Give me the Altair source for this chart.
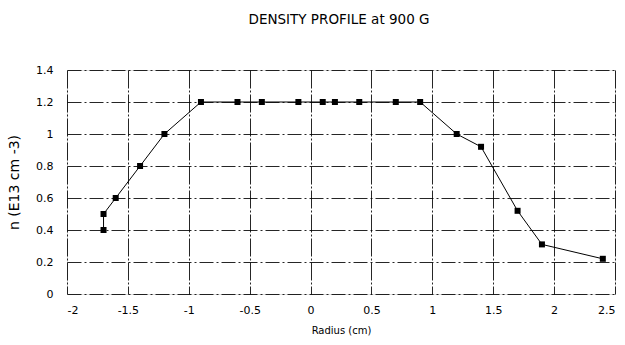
import altair as alt
import pandas as pd

# Radial density profile measured at 900 G
radius = [-1.7, -1.7, -1.6, -1.4, -1.2, -0.9, -0.6, -0.4, -0.1, 0.1, 0.2, 0.4,
          0.7, 0.9, 1.2, 1.4, 1.7, 1.9, 2.4]
density = [0.4, 0.5, 0.6, 0.8, 1.0, 1.2, 1.2, 1.2, 1.2, 1.2, 1.2, 1.2,
           1.2, 1.2, 1.0, 0.92, 0.52, 0.31, 0.22]
order = list(range(len(radius)))

x_ticks = [-2, -1.5, -1, -0.5, 0, 0.5, 1, 1.5, 2, 2.5]
y_ticks = [0, 0.2, 0.4, 0.6, 0.8, 1, 1.2, 1.4]

df = pd.DataFrame({"r": radius, "n": density, "i": order})

FONT = "DejaVu Sans"
PLAIN = "'' + datum.value"

x_enc = alt.X(
    "r:Q",
    scale=alt.Scale(domain=[-2, 2.5], nice=False, zero=False),
    axis=alt.Axis(
        values=x_ticks, title="Radius (cm)", grid=True, gridColor="#000",
        gridOpacity=0.85, gridDash=[18, 2, 2, 2], gridWidth=1,
        domain=False, ticks=False, labelPadding=10, labelOverlap=False,
        labelFont=FONT, labelFontSize=11, labelColor="#000",
        titleFont=FONT, titleFontSize=10, titleFontWeight="normal",
        titleColor="#000", titlePadding=10, labelExpr=PLAIN,
    ),
)
y_enc = alt.Y(
    "n:Q",
    scale=alt.Scale(domain=[0, 1.4], nice=False),
    axis=alt.Axis(
        values=y_ticks, title="n (E13 cm -3)", grid=True, gridColor="#000",
        gridOpacity=0.85, gridDash=[14, 3, 2, 3], gridWidth=1,
        domain=False, ticks=False, labelPadding=14, labelOverlap=False,
        labelFont=FONT, labelFontSize=11, labelColor="#000",
        titleFont=FONT, titleFontSize=14, titleFontWeight="normal",
        titleColor="#000", titlePadding=14, labelExpr=PLAIN,
    ),
)

base = alt.Chart(df).encode(x=x_enc, y=y_enc, order="i:Q")
line = base.mark_line(color="#000", strokeWidth=1)
points = base.mark_point(
    shape="square", filled=True, color="#000", size=36, opacity=1
)

chart = (
    alt.layer(line, points)
    .properties(
        width=548,
        height=224,
        autosize=alt.AutoSizeParams(type="none"),
        padding={"left": 67, "top": 70, "right": 10, "bottom": 51},
        title=alt.TitleParams(
            "DENSITY PROFILE at 900 G", font=FONT, fontSize=13.5,
            fontWeight="normal", color="#000", offset=38, dx=-2,
        ),
    )
    .configure_view(stroke="#000", strokeWidth=1)
    .configure(background="white")
)

chart.save("out.html", embed_options={"renderer": "svg", "actions": False})
